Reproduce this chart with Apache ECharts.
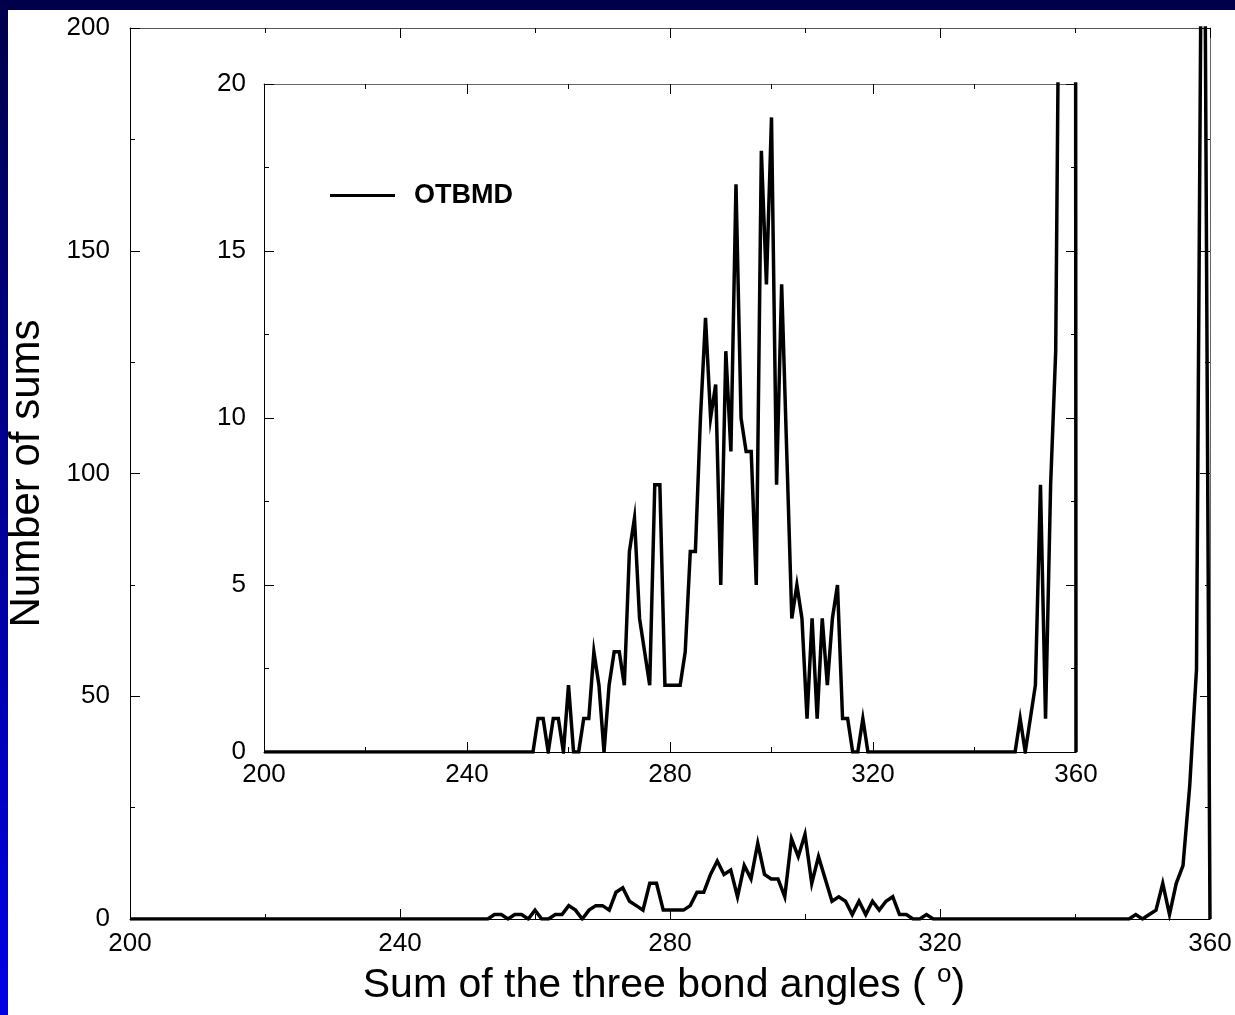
<!DOCTYPE html>
<html>
<head>
<meta charset="utf-8">
<script src="https://cdn.jsdelivr.net/npm/echarts@6/dist/echarts.min.js"></script>
<style>
html,body{margin:0;padding:0;background:#fff;}
#chart{width:1235px;height:1015px;}
</style>
</head>
<body>
<div id="chart"></div>
<script>
// Bin centres (degrees) and number of sums per bin
const angles = [
  200,201,202,203,204,205,206,207,208,209,
  210,211,212,213,214,215,216,217,218,219,
  220,221,222,223,224,225,226,227,228,229,
  230,231,232,233,234,235,236,237,238,239,
  240,241,242,243,244,245,246,247,248,249,
  250,251,252,253,254,255,256,257,258,259,
  260,261,262,263,264,265,266,267,268,269,
  270,271,272,273,274,275,276,277,278,279,
  280,281,282,283,284,285,286,287,288,289,
  290,291,292,293,294,295,296,297,298,299,
  300,301,302,303,304,305,306,307,308,309,
  310,311,312,313,314,315,316,317,318,319,
  320,321,322,323,324,325,326,327,328,329,
  330,331,332,333,334,335,336,337,338,339,
  340,341,342,343,344,345,346,347,348,349,
  350,351,352,353,354,355,356,357,358,359,
  360
];
const counts = [
  0,0,0,0,0,0,0,0,0,0,
  0,0,0,0,0,0,0,0,0,0,
  0,0,0,0,0,0,0,0,0,0,
  0,0,0,0,0,0,0,0,0,0,
  0,0,0,0,0,0,0,0,0,0,
  0,0,0,0,1,1,0,1,1,0,
  2,0,0,1,1,3,2,0,2,3,
  3,2,6,7,4,3,2,8,8,2,
  2,2,2,3,6,6,10,13,10,11,
  5,12,9,17,10,9,9,5,18,14,
  19,8,14,9,4,5,4,1,4,1,
  4,2,4,5,1,1,0,0,1,0,
  0,0,0,0,0,0,0,0,0,0,
  0,0,0,0,0,0,0,0,0,0,
  0,0,0,0,0,0,0,0,0,1,
  0,1,2,8,1,8,12,30,56,290,
  0
];
const seriesName = 'OTBMD';
const xTitle = 'Sum of the three bond angles (';
const yTitle = 'Number of sums';
const xRange = [200, 360];
const mainYRange = [0, 200];
const insetYRange = [0, 20];

const points = angles.map((a, i) => [a, counts[i]]);
const FONT = '"Liberation Sans", Arial, Helvetica, sans-serif';

function xAx(grid, pos, labels, margin, lineColor) {
  return {
    type: 'value', gridIndex: grid, position: pos,
    min: xRange[0], max: xRange[1], interval: 40,
    axisLine: { show: true, onZero: false, lineStyle: { color: lineColor, width: 1 } },
    axisTick: { show: true, inside: true, length: 10, lineStyle: { color: '#000', width: 1 } },
    minorTick: { show: true, splitNumber: 2, length: 5, lineStyle: { color: '#000', width: 1 } },
    splitLine: { show: false }, minorSplitLine: { show: false },
    axisLabel: { show: labels, fontSize: 26, color: '#000', fontFamily: FONT, margin: margin }
  };
}
function yAx(grid, pos, range, interval, labels, margin, lineColor) {
  return {
    type: 'value', gridIndex: grid, position: pos,
    min: range[0], max: range[1], interval: interval,
    axisLine: { show: true, onZero: false, lineStyle: { color: lineColor, width: 1 } },
    axisTick: { show: true, inside: true, length: 10, lineStyle: { color: '#000', width: 1 } },
    minorTick: { show: true, splitNumber: 2, length: 5, lineStyle: { color: '#000', width: 1 } },
    splitLine: { show: false }, minorSplitLine: { show: false },
    axisLabel: { show: labels, fontSize: 26, color: '#000', fontFamily: FONT, margin: margin }
  };
}

const xAxes = [
  xAx(0, 'bottom', true, 12, '#000'),
  xAx(0, 'top', false, 8, '#555'),
  xAx(1, 'bottom', true, 10, '#000'),
  xAx(1, 'top', false, 8, '#666')
];
xAxes[0].name = '{t|' + xTitle + ' }{s|o}{t|)}';
xAxes[0].nameLocation = 'middle';
xAxes[0].nameGap = 28;
xAxes[0].nameTextStyle = {
  fontFamily: FONT, color: '#000', padding: [0, 12, 0, 0],
  rich: {
    t: { fontSize: 41, fontFamily: FONT, color: '#000', lineHeight: 44, padding: [3, 0, 0, 0] },
    s: { fontSize: 26, fontFamily: FONT, color: '#000', verticalAlign: 'top', lineHeight: 8 }
  }
};

const yAxes = [
  yAx(0, 'left', mainYRange, 50, true, 20, '#000'),
  yAx(0, 'right', mainYRange, 50, false, 8, '#666'),
  yAx(1, 'left', insetYRange, 5, true, 18, '#000'),
  yAx(1, 'right', insetYRange, 5, false, 8, '#000')
];
yAxes[0].name = yTitle;
yAxes[0].nameLocation = 'middle';
yAxes[0].nameGap = 82;
yAxes[0].nameTextStyle = { fontSize: 42, fontFamily: FONT, color: '#000' };

const lineStyle = { color: '#000', width: 3.5, join: 'miter', miterLimit: 10 };

const option = {
  animation: false,
  backgroundColor: '#fff',
  graphic: [
    { type: 'rect', left: 0, top: 0, shape: { width: 1235, height: 10 }, style: { fill: '#00004a' }, z: 100 },
    { type: 'rect', left: 0, top: 0, shape: { width: 8, height: 1015 },
      style: { fill: new echarts.graphic.LinearGradient(0, 0, 0, 1, [
        { offset: 0, color: '#00004a' }, { offset: 1, color: '#0000e6' }]) }, z: 100 }
  ],
  grid: [
    { left: 130, top: 28, width: 1080, height: 891, containLabel: false, outerBoundsMode: 'none' },
    { left: 264, top: 84, width: 812, height: 668, containLabel: false, outerBoundsMode: 'none' }
  ],
  legend: {
    show: true, left: 325, top: 177, selectedMode: false,
    itemWidth: 65, itemHeight: 3,
    data: [{ name: seriesName, icon: 'rect', itemStyle: { color: '#000' } }],
    textStyle: { fontSize: 27, fontWeight: 'bold', fontFamily: FONT, color: '#000', padding: [0, 0, 0, 14] }
  },
  xAxis: xAxes,
  yAxis: yAxes,
  series: [
    { name: seriesName, type: 'line', xAxisIndex: 0, yAxisIndex: 0, data: points,
      symbol: 'none', showSymbol: false, clip: true, itemStyle: { color: '#000' }, lineStyle: lineStyle, z: 5 },
    { name: seriesName, type: 'line', xAxisIndex: 2, yAxisIndex: 2, data: points,
      symbol: 'none', showSymbol: false, clip: true, itemStyle: { color: '#000' }, lineStyle: lineStyle, z: 5 }
  ]
};
const chart = echarts.init(document.getElementById('chart'), null, { renderer: 'canvas' });
chart.setOption(option);
</script>
</body>
</html>
